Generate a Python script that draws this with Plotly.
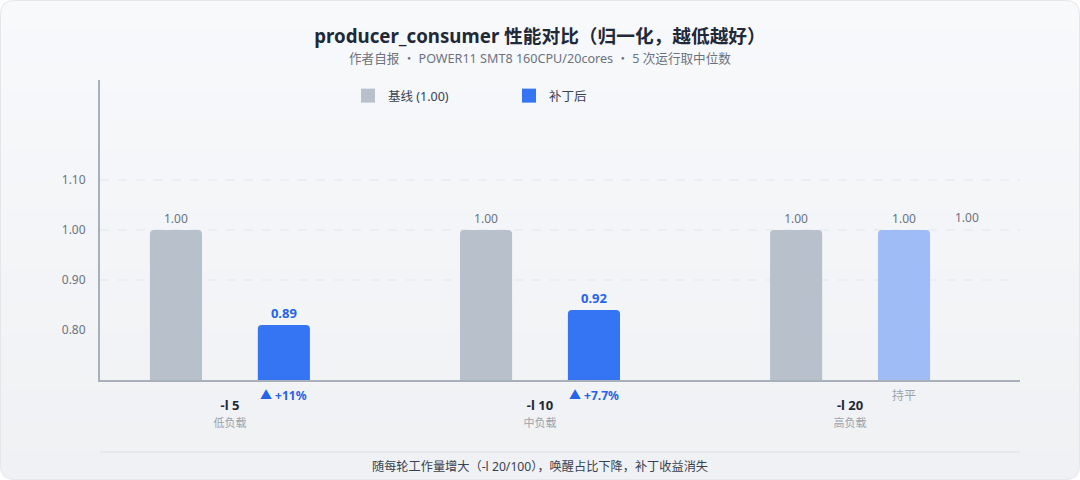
import plotly.graph_objects as go

# ---- data ----
categories = ["-l 5", "-l 10", "-l 20"]
category_notes = ["低负载", "中负载", "高负载"]
baseline_values = [1.00, 1.00, 1.00]
baseline_labels = ["1.00", "1.00", "1.00"]
# bar heights as drawn against the y axis in the reference
patched_values = [0.81, 0.84, 1.00]
# value labels printed above the patched bars
patched_labels = ["0.89", "0.92", "1.00"]
patched_improved = [True, True, False]
delta_labels = ["▲ +11%", "▲ +7.7%", "持平"]
y_ticks = [0.80, 0.90, 1.00, 1.10]
y_tick_labels = ["0.80", "0.90", "1.00", "1.10"]
grid_values = [0.90, 1.00, 1.10]

FONT = "Noto Sans, Noto Sans CJK SC, sans-serif"
W, H = 1080, 480
L, R, T, B = 100, 60, 80, 100
PW, PH = W - L - R, H - T - B


def px_x(px):
    return (px - L) / PW


def px_y(py):
    return (H - B - py) / PH


def pt(px, py):
    return f"{px_x(px):.6f},{px_y(py):.6f}"


x_idx = list(range(len(categories)))
bar_w = 0.168
sep = 0.174

patched_colors = ["#3574f3" if ok else "#9fbcf6" for ok in patched_improved]
patched_text = [f"<b>{t}</b>" if ok else t for t, ok in zip(patched_labels, patched_improved)]
patched_text_colors = ["#2563eb" if ok else "#6b7280" for ok in patched_improved]
patched_text_sizes = [13 if ok else 12 for ok in patched_improved]

fig = go.Figure()
fig.add_trace(go.Bar(
    x=x_idx, y=baseline_values, name="基线 (1.00)", showlegend=False,
    width=bar_w, offset=-sep - bar_w / 2,
    marker=dict(color="#b8c0cc", cornerradius=4, line=dict(width=0)),
    text=baseline_labels, textposition="outside",
    textfont=dict(color="#6b7280", size=12, family=FONT),
    cliponaxis=False, hoverinfo="skip",
))
fig.add_trace(go.Bar(
    x=x_idx, y=patched_values, name="补丁后", showlegend=False,
    width=bar_w, offset=sep - bar_w / 2,
    marker=dict(color=patched_colors, cornerradius=4, line=dict(width=0)),
    text=patched_text, textposition="outside",
    textfont=dict(color=patched_text_colors, size=patched_text_sizes, family=FONT),
    cliponaxis=False, hoverinfo="skip",
))
# legend entries (larger square swatches)
fig.add_trace(go.Scatter(x=[None], y=[None], mode="markers", name="基线 (1.00)",
                         marker=dict(symbol="square", size=14, color="#b8c0cc")))
fig.add_trace(go.Scatter(x=[None], y=[None], mode="markers", name="补丁后",
                         marker=dict(symbol="square", size=14, color="#3574f3")))

annotations = []
for i, (lab, ok) in enumerate(zip(delta_labels, patched_improved)):
    col = "#2563eb" if ok else "#9ca3af"
    txt = f"<b>{lab}</b>" if ok else lab
    annotations.append(dict(
        x=i + sep, y=px_y(395), xref="x", yref="paper", text=txt,
        showarrow=False, font=dict(size=12, color=col, family=FONT),
        xanchor="center", yanchor="middle"))
annotations.append(dict(
    x=len(categories) - 1 + sep + 0.203, y=baseline_values[-1], xref="x", yref="y",
    text=patched_labels[-1], showarrow=False, yshift=13,
    font=dict(size=12, color="#6b7280", family=FONT), xanchor="center", yanchor="middle"))
annotations.append(dict(
    x=px_x(540), y=px_y(59), xref="paper", yref="paper",
    text="作者自报 ・ POWER11 SMT8 160CPU/20cores ・ 5 次运行取中位数",
    showarrow=False, font=dict(size=12.6, color="#6b7280", family=FONT),
    xanchor="center", yanchor="middle"))
annotations.append(dict(
    x=px_x(540), y=px_y(466), xref="paper", yref="paper",
    text="随每轮工作量增大（-l 20/100），唤醒占比下降，补丁收益消失",
    showarrow=False, font=dict(size=12.2, color="#374151", family=FONT),
    xanchor="center", yanchor="middle"))

shapes = []
# card background: soft vertical gradient in bands
top_c = (248, 249, 251)
bot_c = (239, 241, 244)
nb = 16
for k in range(nb):
    f = k / (nb - 1)
    c = tuple(round(a + (b - a) * f) for a, b in zip(top_c, bot_c))
    y0 = k * H / nb
    y1 = (k + 1) * H / nb + 0.5
    shapes.append(dict(type="rect", xref="paper", yref="paper",
                       x0=px_x(0), x1=px_x(W), y0=px_y(min(y1, H)), y1=px_y(y0),
                       fillcolor="rgb(%d,%d,%d)" % c, line=dict(width=0), layer="below"))
# white corner masks for rounded card
r = 14
x0, y0, x1, y1 = 0.5, 0.5, W - 0.5, H - 0.5
for (cx, cy, sx, sy) in [(0, 0, 1, 1), (W, 0, -1, 1), (0, H, 1, -1), (W, H, -1, -1)]:
    path = (f"M {pt(cx, cy)} L {pt(cx + sx * (r + 1), cy)} "
            f"Q {pt(cx + sx * 0.5, cy + sy * 0.5)} {pt(cx, cy + sy * (r + 1))} Z")
    shapes.append(dict(type="path", xref="paper", yref="paper", path=path,
                       fillcolor="#ffffff", line=dict(width=0), layer="below"))
card = (f"M {pt(x0 + r, y0)} L {pt(x1 - r, y0)} Q {pt(x1, y0)} {pt(x1, y0 + r)} "
        f"L {pt(x1, y1 - r)} Q {pt(x1, y1)} {pt(x1 - r, y1)} "
        f"L {pt(x0 + r, y1)} Q {pt(x0, y1)} {pt(x0, y1 - r)} "
        f"L {pt(x0, y0 + r)} Q {pt(x0, y0)} {pt(x0 + r, y0)} Z")
shapes.append(dict(type="path", xref="paper", yref="paper", path=card,
                   line=dict(color="#e3e6ea", width=1), layer="below"))
# dashed grid lines
for g in grid_values:
    shapes.append(dict(type="line", xref="paper", yref="y", x0=0, x1=1, y0=g, y1=g,
                       line=dict(color="#e3e6ea", width=1, dash="dash"), layer="below"))
# footer separator
shapes.append(dict(type="line", xref="paper", yref="paper", x0=0, x1=1,
                   y0=px_y(452), y1=px_y(452), line=dict(color="#e2e5e9", width=1.5)))

ticktext = [f"<b>{c}</b><br><span style='font-size:11px;color:#9ca3af'>{n}</span>"
            for c, n in zip(categories, category_notes)]

fig.update_layout(
    width=W, height=H,
    margin=dict(l=L, r=R, t=T, b=B),
    paper_bgcolor="#ffffff", plot_bgcolor="rgba(0,0,0,0)",
    font=dict(family=FONT, color="#374151"),
    title=dict(text="<b>producer_consumer 性能对比（归一化，越低越好）</b>",
               x=0.5, xref="container", xanchor="center",
               y=1 - 36 / H, yref="container", yanchor="middle",
               font=dict(size=18.7, color="#1f2937", family=FONT)),
    showlegend=True,
    legend=dict(orientation="h", x=px_x(348), y=px_y(96), xanchor="left", yanchor="middle",
                font=dict(size=12.5, color="#374151", family=FONT),
                entrywidth=116, entrywidthmode="pixels", bgcolor="rgba(0,0,0,0)",
                itemsizing="trace"),
    barmode="overlay",
    hovermode=False,
    xaxis=dict(range=[-0.419, 2.548], tickvals=x_idx, ticktext=ticktext,
               showgrid=False, zeroline=False, showline=True, linecolor="#a9b0bb",
               linewidth=2, ticks="", tickfont=dict(size=13, color="#1f2937", family=FONT),
               ticklabelstandoff=12, fixedrange=True),
    yaxis=dict(range=[0.70, 1.30], tickvals=y_ticks, ticktext=y_tick_labels,
               showgrid=False, zeroline=False, showline=True, linecolor="#a9b0bb", linewidth=2,
               ticks="", tickfont=dict(size=12, color="#6b7280", family=FONT),
               ticklabelstandoff=10, fixedrange=True),
    annotations=annotations,
    shapes=shapes,
)

fig.write_html("out.html", config={"displayModeBar": False},
               post_script="document.body.style.margin='0';document.body.style.padding='0';")
